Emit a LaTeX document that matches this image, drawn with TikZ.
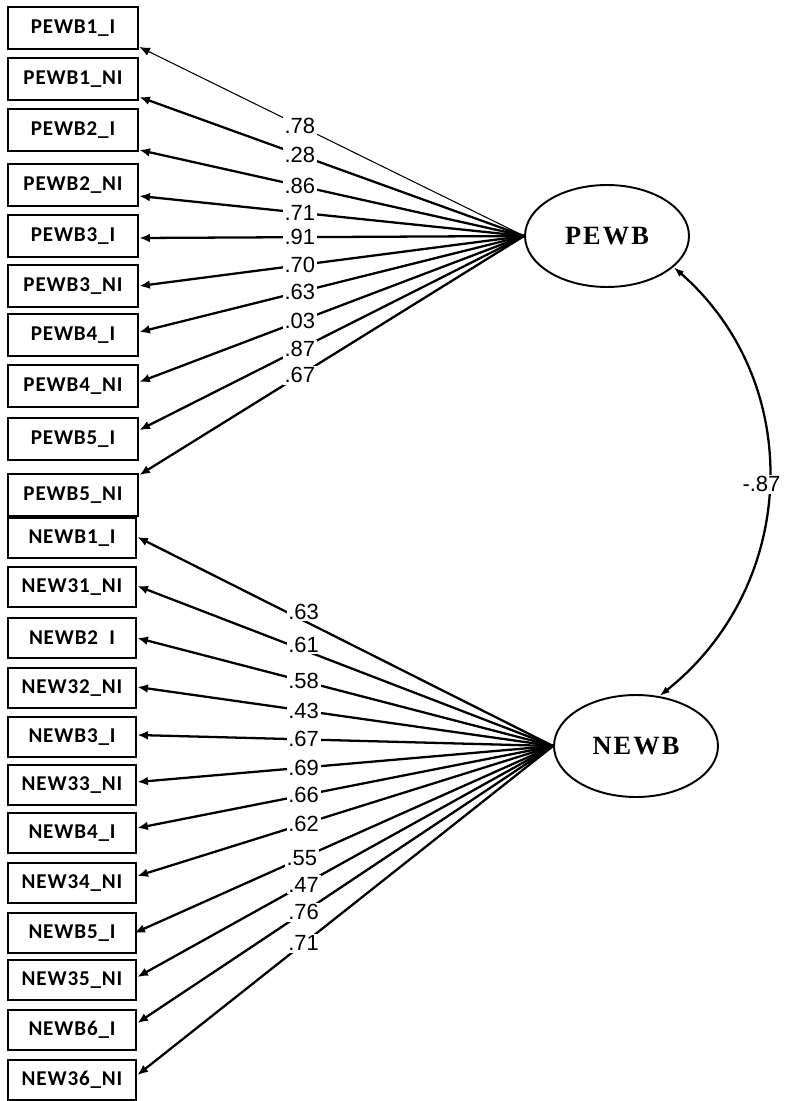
\documentclass[tikz,border=0pt]{standalone}
\usepackage{fontspec}
\usetikzlibrary{shapes.geometric,arrows.meta,calc}
\newfontfamily\boxfont[LetterSpace=4]{Carlito}
\newfontfamily\numfont{Liberation Sans}
\newfontfamily\latfont[LetterSpace=8]{Liberation Serif}

\tikzset{
  obsbox/.style={draw,line width=1.6pt,minimum width=2.6cm,minimum height=0.84cm,inner sep=0pt,
    font=\boxfont\bfseries\fontsize{12}{14}\selectfont},
  nbox/.style={obsbox,minimum width=2.56cm,minimum height=0.8cm},
  latent/.style={draw,ellipse,line width=1.1pt,minimum width=3.28cm,minimum height=2.04cm,inner sep=0pt,
    font=\latfont\bfseries\fontsize{15}{17}\selectfont},
  loading/.style={line width=1.3pt,-{Latex[length=6pt,width=5pt]}},
  lbl/.style={fill=white,inner sep=1pt,font=\numfont\fontsize{12.5}{14}\selectfont}
}

\begin{document}
\begin{tikzpicture}[x=0.02cm,y=-0.02cm]
\useasboundingbox (0,0) rectangle (805,1101);

% latent factors
\node[latent] (PEWB) at (607,236) {PEWB};
\node[latent] (NEWB) at (636,746) {NEWB};

% positive wellbeing items
\node[obsbox] (p1) at (73,28) {PEWB1\_I};
\node[obsbox] (p2) at (73,79) {PEWB1\_NI};
\node[obsbox] (p3) at (73,130) {PEWB2\_I};
\node[obsbox] (p4) at (73,185) {PEWB2\_NI};
\node[obsbox] (p5) at (73,236) {PEWB3\_I};
\node[obsbox] (p6) at (73,286) {PEWB3\_NI};
\node[obsbox] (p7) at (73,335) {PEWB4\_I};
\node[obsbox] (p8) at (73,386) {PEWB4\_NI};
\node[obsbox] (p9) at (73,439) {PEWB5\_I};
\node[obsbox] (p10) at (73,495) {PEWB5\_NI};

% negative wellbeing items
\node[nbox] (n1) at (72,538) {NEWB1\_I};
\node[nbox] (n2) at (72,587) {NEW31\_NI};
\node[nbox] (n3) at (72,638) {NEWB2~~I};
\node[nbox] (n4) at (72,688) {NEW32\_NI};
\node[nbox] (n5) at (72,737) {NEWB3\_I};
\node[nbox] (n6) at (72,785) {NEW33\_NI};
\node[nbox] (n7) at (72,833) {NEWB4\_I};
\node[nbox] (n8) at (72,883) {NEW34\_NI};
\node[nbox] (n9) at (72,933) {NEWB5\_I};
\node[nbox] (n10) at (72,980) {NEW35\_NI};
\node[nbox] (n11) at (72,1030) {NEWB6\_I};
\node[nbox] (n12) at (72,1080) {NEW36\_NI};

% loadings PEWB
\draw[loading,line width=0.6pt] (PEWB.west) -- node[lbl,pos=0.583] {.78} ($(p1.east)+(0,19)$);
\draw[loading] (PEWB.west) -- node[lbl,pos=0.583] {.28} ($(p2.east)+(0,18)$);
\draw[loading] (PEWB.west) -- node[lbl,pos=0.583] {.86} ($(p3.east)+(0,20)$);
\draw[loading] (PEWB.west) -- node[lbl,pos=0.583] {.71} ($(p4.east)+(0,11)$);
\draw[loading] (PEWB.west) -- node[lbl,pos=0.583] {.91} ($(p5.east)+(0,2)$);
\draw[loading] (PEWB.west) -- node[lbl,pos=0.583] {.70} (p6.east);
\draw[loading] (PEWB.west) -- node[lbl,pos=0.583] {.63} ($(p7.east)+(0,-3)$);
\draw[loading] (PEWB.west) -- node[lbl,pos=0.583] {.03} ($(p8.east)+(0,-4)$);
\draw[loading] (PEWB.west) -- node[lbl,pos=0.583] {.87} ($(p9.east)+(0,-9)$);
\draw[loading] (PEWB.west) -- node[lbl,pos=0.583] {.67} ($(p10.east)+(0,-20)$);

% loadings NEWB
\draw[loading] (NEWB.west) -- node[lbl,pos=0.6,yshift=5pt] {.63} ($(n1.east)+(0,-1)$);
\draw[loading] (NEWB.west) -- node[lbl,pos=0.6,yshift=3pt] {.61} ($(n2.east)+(0,-1)$);
\draw[loading] (NEWB.west) -- node[lbl,pos=0.6] {.58} (n3.east);
\draw[loading] (NEWB.west) -- node[lbl,pos=0.6] {.43} ($(n4.east)+(0,-1)$);
\draw[loading] (NEWB.west) -- node[lbl,pos=0.6] {.67} ($(n5.east)+(0,-2)$);
\draw[loading] (NEWB.west) -- node[lbl,pos=0.6] {.69} ($(n6.east)+(0,-3)$);
\draw[loading] (NEWB.west) -- node[lbl,pos=0.6] {.66} ($(n7.east)+(0,-5)$);
\draw[loading] (NEWB.west) -- node[lbl,pos=0.6] {.62} ($(n8.east)+(0,-7)$);
\draw[loading] (NEWB.west) -- node[lbl,pos=0.6] {.55} ($(n9.east)+(-3,0)$);
\draw[loading] (NEWB.west) -- node[lbl,pos=0.6] {.47} ($(n10.east)+(0,-3)$);
\draw[loading] (NEWB.west) -- node[lbl,pos=0.6] {.76} ($(n11.east)+(0,-7)$);
\draw[loading] (NEWB.west) -- node[lbl,pos=0.6] {.71} ($(n12.east)+(0,-5)$);

% covariance
\draw[line width=1.3pt,{Latex[length=6pt,width=4pt]}-{Latex[length=6pt,width=4pt]}]
  (PEWB.-25) .. controls (807,384) and (798,586) .. node[lbl,xshift=-4pt] {-.87} (NEWB.65);

\end{tikzpicture}
\end{document}
